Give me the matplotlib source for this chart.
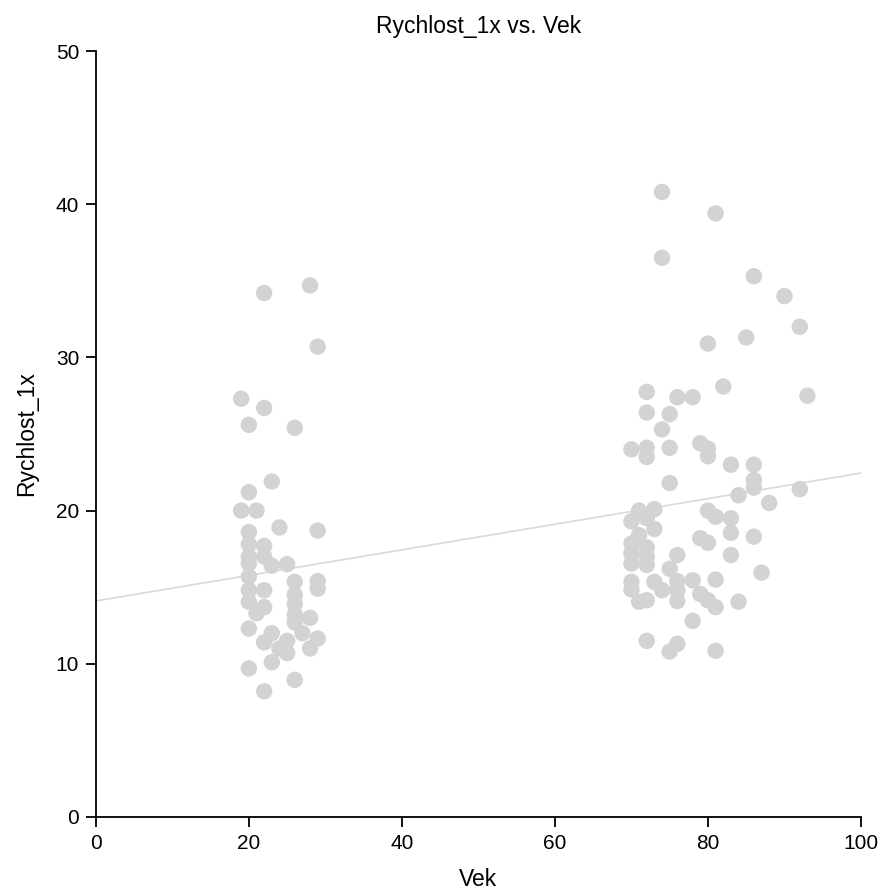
import numpy as np
import matplotlib.pyplot as plt

plt.rcParams['font.family'] = ['Liberation Sans', 'DejaVu Sans']

# Age (Vek) and speed (Rychlost_1x) for the younger group
vek_young = [19, 20, 22, 22, 28, 29, 26, 23, 20, 19, 21, 24, 29, 20, 20, 22,
             20, 22, 20, 23, 25, 20, 26, 29, 29, 20, 22, 26, 20, 26, 22, 21,
             26, 28, 26, 20, 23, 27, 29, 22, 25, 24, 28, 25, 23, 20, 26, 22]
rychlost_young = [27.3, 25.6, 34.2, 26.7, 34.7, 30.7, 25.4, 21.9, 21.2, 20.0,
                  20.0, 18.9, 18.7, 18.6, 17.8, 17.7, 17.0, 17.0, 16.55, 16.4,
                  16.5, 15.7, 15.35, 15.4, 14.9, 14.8, 14.8, 14.5, 14.05, 13.9,
                  13.7, 13.3, 13.2, 13.0, 12.7, 12.3, 12.0, 12.0, 11.65, 11.4,
                  11.5, 11.0, 11.0, 10.7, 10.1, 9.7, 8.95, 8.2]

# Age and speed for the older group
vek_old = [74, 81, 74, 86, 90, 92, 85, 80, 82, 72, 76, 78, 93, 72, 75, 74,
           70, 72, 72, 75, 79, 80, 80, 83, 86, 86, 86, 75, 92, 84, 88, 71,
           73, 80, 81, 83, 70, 72, 73, 83, 86, 71, 79, 80, 70, 72, 70, 72,
           76, 83, 70, 72, 75, 87, 70, 73, 78, 81, 76, 70, 74, 76, 79, 71,
           72, 76, 80, 81, 84, 78, 72, 76, 75, 81]
rychlost_old = [40.8, 39.4, 36.5, 35.3, 34.0, 32.0, 31.3, 30.9, 28.1, 27.75,
                27.4, 27.4, 27.5, 26.4, 26.3, 25.3, 24.0, 24.1, 23.5, 24.1,
                24.4, 24.05, 23.55, 23.0, 23.0, 22.0, 21.5, 21.8, 21.4, 21.0,
                20.5, 20.0, 20.1, 20.0, 19.6, 19.5, 19.3, 19.5, 18.8, 18.55,
                18.3, 18.4, 18.2, 17.9, 17.85, 17.6, 17.2, 17.0, 17.1, 17.1,
                16.55, 16.45, 16.2, 15.95, 15.35, 15.35, 15.45, 15.5, 15.4, 14.85,
                14.8, 14.8, 14.55, 14.05, 14.15, 14.1, 14.15, 13.7, 14.05, 12.8,
                11.5, 11.3, 10.8, 10.85]

# Fitted regression line: Rychlost_1x = intercept + slope * Vek
fit_intercept = 14.1
fit_slope = 0.0835

vek = np.array(vek_young + vek_old)
rychlost = np.array(rychlost_young + rychlost_old)
xs = np.array([0, 100])

fig = plt.figure(figsize=(8.79, 8.92), dpi=100)
ax = fig.add_axes([0.109, 0.0841, 0.8705, 0.8587])

ax.scatter(vek, rychlost, s=140, color='#d3d3d3', edgecolors='none', zorder=2)
ax.plot(xs, fit_intercept + fit_slope * xs, color='#d9d9d9', lw=1.2, zorder=1)

ax.set_xlim(0, 100)
ax.set_ylim(0, 50)
ax.set_xticks([0, 20, 40, 60, 80, 100])
ax.set_yticks([0, 10, 20, 30, 40, 50])

for side in ['top', 'right']:
    ax.spines[side].set_visible(False)
for side in ['left', 'bottom']:
    ax.spines[side].set_linewidth(1.3)
ax.tick_params(length=7, width=1.3, labelsize=15, pad=5)

ax.set_title('Rychlost_1x vs. Vek', fontsize=16.5, pad=13)
ax.set_xlabel('Vek', fontsize=16.5, labelpad=11)
ax.set_ylabel('Rychlost_1x', fontsize=16.5, labelpad=13)

fig.savefig('out.png', dpi=100)
